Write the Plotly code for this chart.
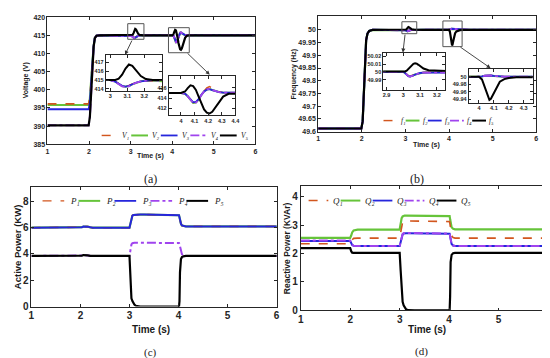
import plotly.graph_objects as go

# ---------------- data ----------------
# (a) voltage
tA = [1.0, 1.99, 2.02, 2.05, 2.08, 2.11, 2.14, 2.18, 2.25, 2.5,
      3.0, 3.03, 3.05, 3.07, 3.09, 3.11, 3.13, 3.15, 3.18, 3.21, 3.25, 3.3,
      4.0, 4.03, 4.05, 4.07, 4.09, 4.11, 4.13, 4.15, 4.17, 4.19, 4.21, 4.23, 4.25, 4.28, 4.31, 4.35, 4.4, 4.5, 6.0]
V1 = [396.1, 396.1, 397.8, 402.5, 408.0, 412.2, 414.4, 414.9, 415.0, 415.0,
      415.0, 414.85, 414.62, 414.4, 414.32, 414.4, 414.57, 414.72, 414.88, 414.96, 414.99, 415.0,
      415.0, 414.88, 414.4, 413.65, 413.15, 413.2, 413.8, 414.75, 415.5, 416.0, 416.25, 415.95, 415.6, 415.25, 415.08, 415.02, 415.0, 415.0, 415.0]
V2 = [395.8, 395.8, 397.5, 402.3, 407.9, 412.1, 414.35, 414.9, 415.0, 415.0,
      415.0, 414.83, 414.58, 414.33, 414.25, 414.33, 414.52, 414.69, 414.86, 414.95, 414.99, 415.0,
      415.0, 414.86, 414.37, 413.62, 413.08, 413.12, 413.72, 414.62, 415.3, 415.7, 415.8, 415.6, 415.4, 415.2, 415.08, 415.02, 415.0, 415.0, 415.0]
V3 = [394.6, 394.6, 396.4, 401.5, 407.5, 412.0, 414.3, 414.9, 415.0, 415.0,
      415.0, 414.82, 414.6, 414.35, 414.27, 414.35, 414.53, 414.7, 414.86, 414.95, 414.99, 415.0,
      415.0, 414.87, 414.4, 413.7, 413.2, 413.25, 413.8, 414.65, 415.3, 415.65, 415.75, 415.58, 415.38, 415.18, 415.07, 415.02, 415.0, 415.0, 415.0]
V4 = [390.2, 390.2, 392.5, 399.0, 406.5, 411.8, 414.2, 414.9, 415.0, 415.0,
      415.0, 414.8, 414.55, 414.3, 414.22, 414.3, 414.5, 414.68, 414.85, 414.95, 414.99, 415.0,
      415.0, 414.85, 414.35, 413.6, 413.05, 413.1, 413.7, 414.6, 415.3, 415.7, 415.8, 415.6, 415.4, 415.2, 415.08, 415.02, 415.0, 415.0, 415.0]
V5 = [390.2, 390.2, 392.5, 399.0, 406.5, 411.8, 414.2, 414.9, 415.0, 415.0,
      415.0, 415.02, 415.15, 415.6, 416.3, 416.75, 416.6, 416.1, 415.45, 415.12, 415.02, 415.0,
      415.0, 415.3, 415.95, 416.5, 416.35, 415.6, 414.3, 412.9, 411.8, 411.15, 411.0, 411.35, 412.1, 413.4, 414.3, 414.85, 415.0, 415.0, 415.0]

# (b) frequency
tB = [1.0, 1.99, 2.02, 2.04, 2.06, 2.08, 2.1, 2.13, 2.17, 2.25,
      2.9, 2.98, 3.0, 3.01, 3.02, 3.03, 3.04, 3.05, 3.06, 3.07, 3.08, 3.09, 3.1, 3.12, 3.15, 3.2, 3.26, 3.4,
      3.98, 4.0, 4.02, 4.04, 4.06, 4.07, 4.08, 4.1, 4.12, 4.14, 4.17, 4.2, 4.25, 4.32, 4.45, 6.0]
F1 = [49.612, 49.612, 49.64, 49.72, 49.82, 49.91, 49.96, 49.985, 49.996, 50.0,
      50.0, 50.0, 50.0, 49.9986, 49.9967, 49.9948, 49.9943, 49.9948, 49.9957, 49.9966, 49.9974, 49.998, 49.9985, 49.9991, 49.9995, 49.9998, 50.0, 50.0,
      50.0, 50.0, 50.001, 50.0027, 50.0038, 50.0037, 50.0033, 50.0021, 50.0012, 50.0008, 50.0004, 50.0002, 50.0, 50.0, 50.0, 50.0]
F2 = [49.612, 49.612, 49.64, 49.72, 49.82, 49.91, 49.96, 49.985, 49.996, 50.0,
      50.0, 50.0, 50.0, 49.9985, 49.9966, 49.9946, 49.9941, 49.9946, 49.9956, 49.9966, 49.9973, 49.998, 49.9985, 49.9991, 49.9995, 49.9998, 50.0, 50.0,
      50.0, 50.0, 50.001, 50.0028, 50.0039, 50.0038, 50.0033, 50.0022, 50.0013, 50.0008, 50.0004, 50.0002, 50.0, 50.0, 50.0, 50.0]
F3 = [49.612, 49.612, 49.64, 49.72, 49.82, 49.91, 49.96, 49.985, 49.996, 50.0,
      50.0, 50.0, 50.0, 49.9985, 49.9965, 49.9945, 49.994, 49.9945, 49.9955, 49.9965, 49.9973, 49.998, 49.9985, 49.9991, 49.9995, 49.9998, 50.0, 50.0,
      50.0, 50.0, 50.001, 50.0028, 50.004, 50.0039, 50.0034, 50.0022, 50.0013, 50.0008, 50.0004, 50.0002, 50.0, 50.0, 50.0, 50.0]
F4 = [49.612, 49.612, 49.64, 49.72, 49.82, 49.91, 49.96, 49.985, 49.996, 50.0,
      50.0, 50.0, 50.0, 49.9985, 49.9965, 49.9945, 49.994, 49.9945, 49.9955, 49.9965, 49.9973, 49.998, 49.9985, 49.9991, 49.9995, 49.9998, 50.0, 50.0,
      50.0, 50.0, 50.001, 50.0028, 50.004, 50.0039, 50.0034, 50.0022, 50.0013, 50.0008, 50.0004, 50.0002, 50.0, 50.0, 50.0, 50.0]
F5 = [49.612, 49.612, 49.64, 49.72, 49.82, 49.91, 49.96, 49.985, 49.996, 50.0,
      50.0, 50.0, 50.0, 50.0005, 50.0015, 50.0035, 50.006, 50.0085, 50.0103, 50.011, 50.0105, 50.009, 50.0072, 50.0042, 50.002, 50.0008, 50.0002, 50.0,
      50.0, 50.0, 49.993, 49.972, 49.946, 49.939, 49.942, 49.958, 49.975, 49.987, 49.994, 49.997, 49.999, 50.0, 50.0, 50.0]

# (c) active power
tC = [1.0, 2.0, 2.03, 2.06, 2.1, 2.15, 2.2, 2.25, 3.0, 3.02, 3.04, 3.06, 3.08, 3.1, 3.13, 3.17, 3.22, 3.3,
      4.0, 4.01, 4.02, 4.03, 4.05, 4.07, 4.1, 4.15, 6.0]
P1 = [6.0, 6.0, 6.04, 6.09, 6.1, 6.08, 6.03, 6.0, 6.0, 6.35, 6.75, 6.92, 6.97, 6.98, 6.99, 7.0, 7.0, 7.0,
      7.0, 6.95, 6.8, 6.6, 6.3, 6.17, 6.12, 6.1, 6.1]
P2 = [6.0, 6.0, 6.04, 6.09, 6.1, 6.08, 6.03, 6.0, 6.0, 6.35, 6.75, 6.92, 6.97, 6.98, 6.99, 7.0, 7.0, 7.0,
      7.0, 6.95, 6.8, 6.6, 6.3, 6.17, 6.12, 6.1, 6.1]
P3 = [6.0, 6.0, 6.04, 6.09, 6.1, 6.08, 6.03, 6.0, 6.0, 6.35, 6.75, 6.92, 6.97, 6.98, 6.99, 7.0, 7.0, 7.0,
      7.0, 6.95, 6.8, 6.6, 6.3, 6.17, 6.12, 6.1, 6.1]
P4 = [3.85, 3.85, 3.88, 3.92, 3.92, 3.89, 3.86, 3.85, 3.85, 4.3, 4.72, 4.82, 4.85, 4.85, 4.85, 4.85, 4.85, 4.85,
      4.85, 4.84, 4.75, 4.55, 4.2, 3.98, 3.88, 3.85, 3.85]
P5 = [3.85, 3.85, 3.88, 3.92, 3.92, 3.89, 3.86, 3.85, 3.85, 1.8, 0.62, 0.42, 0.27, 0.15, 0.06, 0.02, 0.0, 0.0,
      0.0, 0.0, 0.4, 2.6, 3.62, 3.76, 3.82, 3.85, 3.85]

# (d) reactive power
tD = [1.0, 2.0, 2.02, 2.04, 2.07, 2.1, 2.15, 3.0, 3.02, 3.04, 3.06, 3.08, 3.1, 3.13, 3.17, 3.22, 3.3,
      4.0, 4.01, 4.02, 4.03, 4.05, 4.08, 4.12, 6.0]
Q1 = [2.34, 2.34, 2.4, 2.48, 2.53, 2.54, 2.54, 2.54, 2.75, 3.0, 3.1, 3.13, 3.14, 3.14, 3.14, 3.14, 3.14,
      3.14, 3.12, 3.0, 2.8, 2.62, 2.56, 2.54, 2.54]
Q2 = [2.55, 2.55, 2.63, 2.74, 2.81, 2.83, 2.84, 2.84, 3.05, 3.24, 3.3, 3.32, 3.33, 3.33, 3.33, 3.33, 3.33,
      3.33, 3.31, 3.2, 3.05, 2.92, 2.87, 2.85, 2.85]
Q3 = [2.44, 2.44, 2.37, 2.3, 2.27, 2.26, 2.26, 2.26, 2.42, 2.6, 2.67, 2.7, 2.71, 2.71, 2.71, 2.71, 2.71,
      2.71, 2.69, 2.6, 2.45, 2.33, 2.28, 2.26, 2.26]
Q4 = [2.46, 2.46, 2.38, 2.31, 2.27, 2.26, 2.26, 2.26, 2.43, 2.61, 2.68, 2.71, 2.72, 2.72, 2.72, 2.72, 2.72,
      2.72, 2.7, 2.61, 2.46, 2.34, 2.28, 2.26, 2.26]
Q5 = [2.19, 2.19, 2.08, 2.03, 2.02, 2.02, 2.02, 2.02, 1.4, 0.55, 0.3, 0.18, 0.1, 0.04, 0.01, 0.0, 0.0,
      0.0, 0.0, 0.5, 1.7, 1.95, 2.01, 2.02, 2.02]

# tick labels
X_TICKS = [1, 2, 3, 4, 5, 6]
YA_TICKS = [385, 390, 395, 400, 405, 410, 415, 420]
YB_TICKS = [49.6, 49.65, 49.7, 49.75, 49.8, 49.85, 49.9, 49.95, 50]
YB_TEXT = ['49.6', '49.65', '49.7', '49.75', '49.8', '49.85', '49.9', '49.95', '50']
YC_TICKS = [0, 2, 4, 6, 8]
YD_TICKS = [0, 1, 2, 3, 4]
IA1_X = [3, 3.1, 3.2]
IA1_Y = [414, 415, 416, 417]
IA2_X = [4, 4.1, 4.2, 4.3, 4.4]
IA2_Y = [412, 414, 416]
IB1_X = [2.9, 3, 3.1, 3.2]
IB1_Y = [49.99, 50, 50.01, 50.02]
IB1_YT = ['49.99', '50', '50.01', '50.02']
IB2_X = [4, 4.1, 4.2, 4.3]
IB2_Y = [49.94, 49.96, 49.98, 50]
IB2_YT = ['49.94', '49.96', '49.98', '50']
SUBS = ['\u2081', '\u2082', '\u2083', '\u2084', '\u2085']

# ---------------- styling ----------------
W, H = 550, 358
def px(x): return x / W
def py(y): return 1 - y / H

ORANGE = '#D2561E'
GREEN = '#66C43A'
BLUE = '#2626DC'
PURPLE = '#A044EE'
BLACK = '#000000'
STY = [dict(color=ORANGE, dash='dash'), dict(color=GREEN), dict(color=BLUE),
       dict(color=PURPLE, dash='dashdot'), dict(color=BLACK)]
WID = [1.6, 2.2, 2.0, 2.0, 2.2]
DRAW_ORDER = [1, 0, 2, 3, 4]

fig = go.Figure()

def add_series(t, ys, axes, names, scale=1.0):
    for (xa, ya) in axes:
        for i in DRAW_ORDER:
            fig.add_trace(go.Scatter(x=t, y=ys[i], mode='lines', name=names[i],
                                     line=dict(width=WID[i] * scale, **STY[i]),
                                     xaxis=xa, yaxis=ya, showlegend=False, hoverinfo='skip'))

add_series(tA, [V1, V2, V3, V4, V5], [('x', 'y')], ['V1', 'V2', 'V3', 'V4', 'V5'])
add_series(tA, [V1, V2, V3, V4, V5], [('x2', 'y2'), ('x3', 'y3')], ['V1', 'V2', 'V3', 'V4', 'V5'], 0.9)
add_series(tB, [F1, F2, F3, F4, F5], [('x4', 'y4')], ['f1', 'f2', 'f3', 'f4', 'f5'])
add_series(tB, [F1, F2, F3, F4, F5], [('x5', 'y5'), ('x6', 'y6')], ['f1', 'f2', 'f3', 'f4', 'f5'], 0.9)
add_series(tC, [P1, P2, P3, P4, P5], [('x7', 'y7')], ['P1', 'P2', 'P3', 'P4', 'P5'])
add_series(tD, [Q1, Q2, Q3, Q4, Q5], [('x8', 'y8')], ['Q1', 'Q2', 'Q3', 'Q4', 'Q5'])

LC = '#262626'
def axis(dom, rng, tickvals, size, ticktext=None, anchor=None):
    d = dict(domain=dom, range=rng, tickvals=tickvals, showline=True, mirror='ticks',
             linecolor=LC, linewidth=0.8, ticks='inside', ticklen=3, tickcolor=LC, tickwidth=0.8,
             showgrid=False, zeroline=False, ticklabeloverflow='allow',
             tickfont=dict(size=size, family='Liberation Sans', color=LC, weight='bold'))
    if ticktext is not None:
        d['ticktext'] = ticktext
    if anchor:
        d['anchor'] = anchor
    return d

layout = dict(
    width=W, height=H, margin=dict(l=0, r=0, t=0, b=0),
    paper_bgcolor='white', plot_bgcolor='white', showlegend=False,
    xaxis=axis([px(37), px(248)], [1, 6], X_TICKS, 7, anchor='y'),
    yaxis=axis([py(136), py(5.3)], [385, 420], YA_TICKS, 7, anchor='x'),
    xaxis2=axis([px(96), px(153.3)], [2.973, 3.305], IA1_X, 5.5, anchor='y2'),
    yaxis2=axis([py(81), py(44)], [413.8, 417.85], IA1_Y, 5.5, anchor='x2'),
    xaxis3=axis([px(160), px(227.7)], [3.91, 4.4], IA2_X, 5.5, anchor='y3'),
    yaxis3=axis([py(106), py(66)], [410.7, 418.3], IA2_Y, 5.5, anchor='x3'),
    xaxis4=axis([px(311.7), px(533)], [1, 6], X_TICKS, 7, anchor='y4'),
    yaxis4=axis([py(123), py(4)], [49.6, 50.055], YB_TICKS, 7, YB_TEXT, anchor='x4'),
    xaxis5=axis([px(377.7), px(440.7)], [2.88, 3.25], IB1_X, 5.5, anchor='y5'),
    yaxis5=axis([py(80), py(42.3)], [49.977, 50.024], IB1_Y, 5.5, IB1_YT, anchor='x5'),
    xaxis6=axis([px(464.3), px(529.3)], [3.93, 4.36], IB2_X, 5.5, anchor='y6'),
    yaxis6=axis([py(93.3), py(58.3)], [49.9315, 50.0215], IB2_Y, 5.5, IB2_YT, anchor='x6'),
    xaxis7=axis([px(20.7), px(270)], [1, 6.01], X_TICKS, 10, anchor='y7'),
    yaxis7=axis([py(303), py(180)], [0, 9.1], YC_TICKS, 10, anchor='x7'),
    xaxis8=axis([px(294), px(545)], [1, 6.0], X_TICKS, 10, anchor='y8'),
    yaxis8=axis([py(307), py(179)], [0, 4.37], YD_TICKS, 10, anchor='x8'),
)
fig.update_layout(**layout)

shapes = []
annotations = []

# zoom rectangles
for xr, yr, x0, x1, y0, y1 in [('x', 'y', 2.93, 3.32, 413.9, 418.2), ('x', 'y', 3.91, 4.41, 410.2, 417.1),
                               ('x4', 'y4', 2.92, 3.26, 49.985, 50.032), ('x4', 'y4', 3.86, 4.30, 49.934, 50.035)]:
    shapes.append(dict(type='rect', xref=xr, yref=yr, x0=x0, x1=x1, y0=y0, y1=y1,
                       line=dict(color='#555555', width=1)))

# arrows (tip px, tail offset px)
for tx, ty, ax, ay in [(115.7, 44, 7.6, -15.7), (201.7, 64.5, -23.7, -22.8),
                       (397.7, 41.7, 2.3, -19.4), (486.7, 57.8, -31.7, -22.1)]:
    annotations.append(dict(x=px(tx), y=py(ty), xref='paper', yref='paper', ax=ax, ay=ay,
                            axref='pixel', ayref='pixel', text='', showarrow=True,
                            arrowhead=2, arrowsize=0.9, arrowwidth=0.9, arrowcolor='#333333'))

# legends
def legend(y, starts, linelen, textoff, sym, size):
    for k in range(5):
        s = starts[k]
        st = STY[k]
        shapes.append(dict(type='line', xref='paper', yref='paper', x0=px(s), x1=px(s + linelen),
                           y0=py(y), y1=py(y),
                           line=dict(color=st['color'], width=WID[k] * 0.9, dash=st.get('dash', 'solid'))))
        annotations.append(dict(x=px(s + textoff), y=py(y), xref='paper', yref='paper',
                                text=sym + SUBS[k], showarrow=False,
                                xanchor='left', yanchor='middle',
                                font=dict(size=size, family='Liberation Serif, DejaVu Serif',
                                          color='#222222', style='italic')))

legend(127, [92, 122, 152, 182, 212], 17, 19, 'V', 7.5)
legend(111.7, [378, 400.5, 423, 445.5, 468], 14, 15.5, 'f', 7.5)
legend(194.3, [32, 68.5, 105, 141.5, 178], 22, 25.5, 'P', 9)
legend(194, [302, 334.5, 367, 399.5, 432], 20, 23, 'Q', 9)

# axis titles
def txt(x, y, s, size, angle=0, family='Liberation Sans', bold=True, color='#1a1a1a'):
    annotations.append(dict(x=px(x), y=py(y), xref='paper', yref='paper', text=s, showarrow=False,
                            textangle=angle, xanchor='center', yanchor='middle',
                            font=dict(size=size, family=family, color=color,
                                      weight='bold' if bold else 'normal')))

txt(15, 70.5, 'Voltage (V)', 7, -90)
txt(142, 148, 'Time (s)', 7)
txt(287.5, 64, 'Frequency (Hz)', 7, -90)
txt(422, 137, 'Time (s)', 7)
txt(6.5, 241.5, 'Active Power (KW)', 9.5, -90)
txt(142, 327, 'Time (s)', 10)
txt(280, 243, 'Reactive Power (KVAr)', 8.5, -90)
txt(421.7, 327, 'Time (s)', 10)

# captions
txt(142, 172, '(a)', 12, family='Liberation Serif', bold=False)
txt(412, 172, '(b)', 12, family='Liberation Serif', bold=False)
txt(142, 350, '(c)', 11, family='Liberation Serif', bold=False)
txt(417, 349, '(d)', 11, family='Liberation Serif', bold=False)

fig.update_layout(shapes=shapes, annotations=annotations)
fig.write_html('out.html')
